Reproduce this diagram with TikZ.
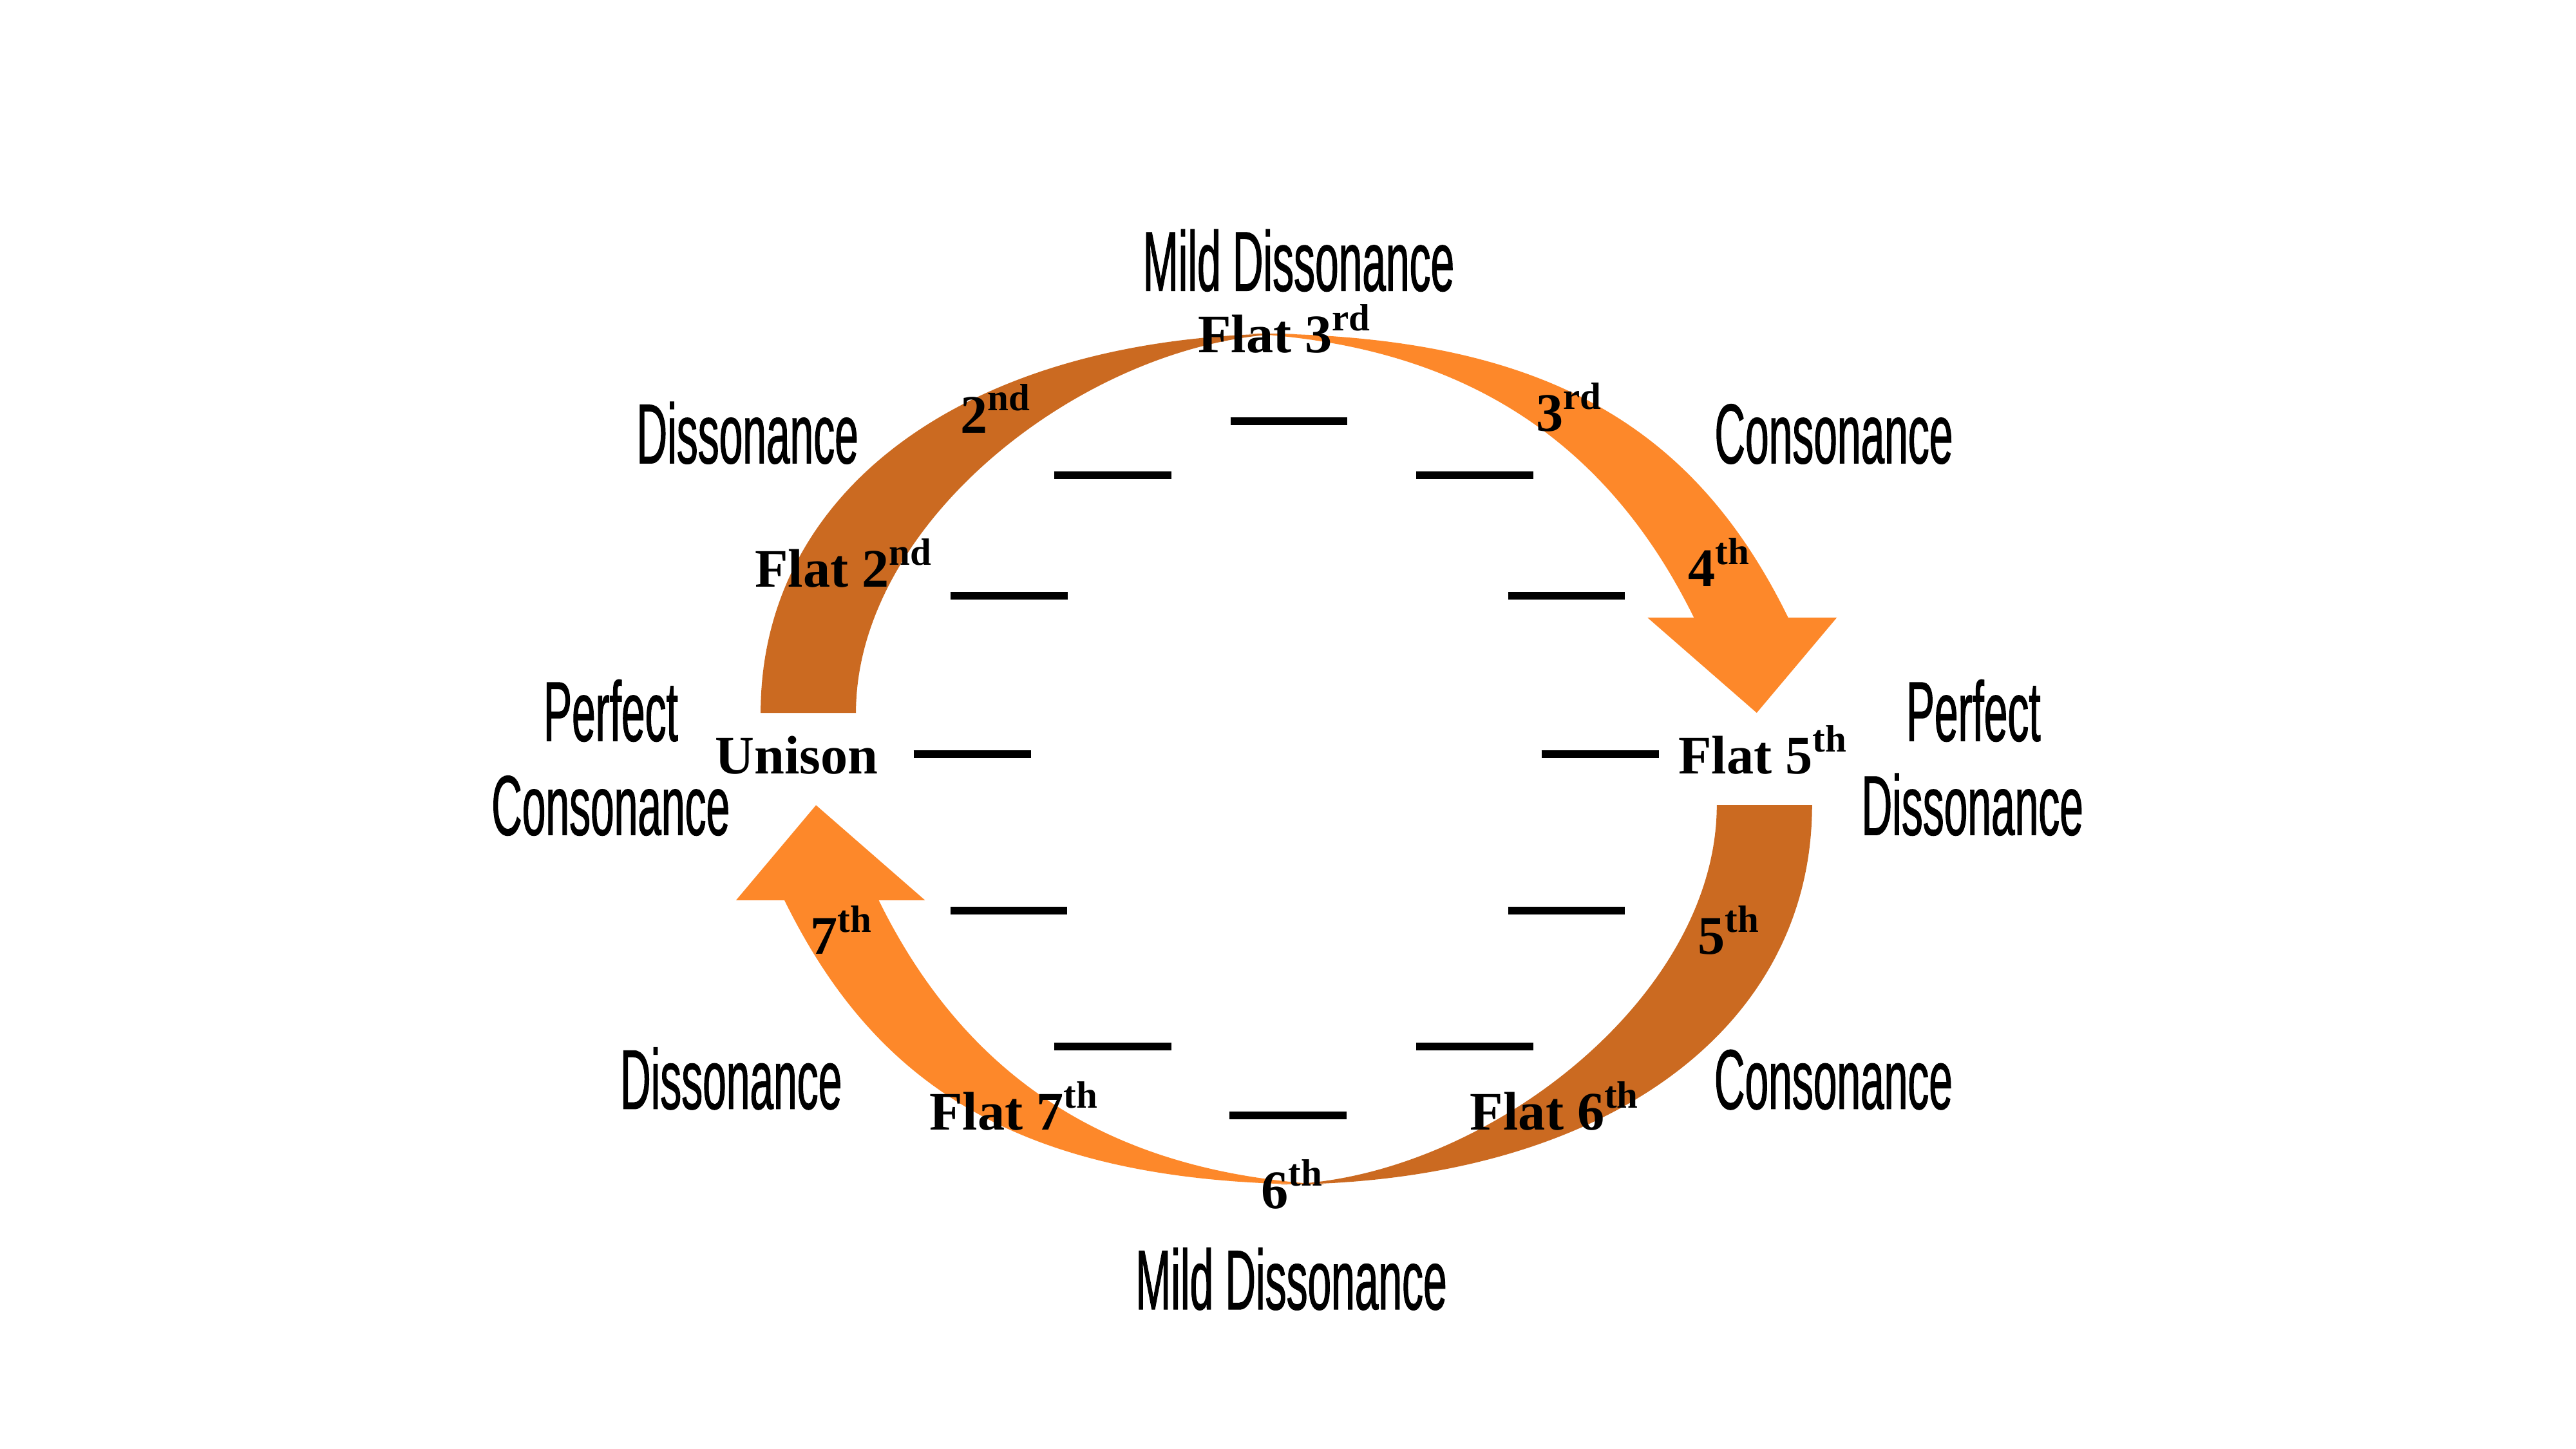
\documentclass[tikz,border=0pt]{standalone}
\usepackage{fontspec}
\setmainfont{Liberation Serif}
\newfontfamily\condfont[FakeStretch=0.5,FakeBold=0.8]{Liberation Sans}
\definecolor{darkor}{HTML}{CB6A21}
\definecolor{lightor}{HTML}{FD882A}
\newcommand\intervalbands{%
  \fill[lightor] (-23,-259) .. controls (157,-259) and (248.3,-202.6) .. (305.5,-86)
     -- (335,-86) -- (286.3,-28.1) -- (219.9,-86) -- (248.1,-86)
     .. controls (190.8,-202.6) and (97,-252) .. (-23,-259) -- cycle;
  \fill[darkor] (-320,-28) .. controls (-320,-166.6) and (-190,-259) .. (5,-259)
     .. controls (-115,-258) and (-262,-148) .. (-262,-28) -- cycle;
}
\begin{document}
\begin{tikzpicture}[x=0.1mm,y=-0.1mm,
  zone/.style={font=\condfont\fontsize{14.7pt}{17pt}\selectfont, anchor=base, inner sep=0pt},
  ivl/.style={font=\bfseries\fontsize{9.4pt}{11pt}\selectfont, anchor=base, inner sep=0pt},
  bar/.style={line width=0.47mm, black}]
\useasboundingbox (0,0) rectangle (1568,882);
\fill[white] (0,0) rectangle (1568,882);

% arrows
\begin{scope}[shift={(783,462)}]
  \intervalbands
\end{scope}
\begin{scope}[shift={(783,462)}, rotate=180]
  \intervalbands
\end{scope}

% bars
\draw[bar] (749,256.5) -- (820,256.5);
\draw[bar] (641.6,289.4) -- (713,289.4);
\draw[bar] (862,289.4) -- (933.2,289.4);
\draw[bar] (578.4,362.6) -- (650,362.6);
\draw[bar] (918,362.6) -- (989.2,362.6);
\draw[bar] (556.1,458.9) -- (627.4,458.9);
\draw[bar] (938.3,459.2) -- (1009.7,459.2);
\draw[bar] (578.6,554.3) -- (649.5,554.3);
\draw[bar] (918,554.3) -- (989.2,554.3);
\draw[bar] (641.6,637.1) -- (713,637.1);
\draw[bar] (862,637.1) -- (933.2,637.1);
\draw[bar] (748.5,678.8) -- (819.8,678.8);

% zone labels
\node[zone] (mdtop) at (790.5,177) {Mild Dissonance};
\node[zone] (disul) at (455,282) {Dissonance};
\node[zone] (conur) at (1116.2,282) {Consonance};
\node[zone] (pcA) at (371.8,451) {Perfect};
\node[zone] (pcB) at (371.7,508.2) {Consonance};
\node[zone] (pdA) at (1201.2,451) {Perfect};
\node[zone] (pdB) at (1200.6,508.2) {Dissonance};
\node[zone] (disll) at (445,675) {Dissonance};
\node[zone] (conlr) at (1116,675) {Consonance};
\node[zone] (mdbot) at (786,797) {Mild Dissonance};

% interval labels
\node[ivl] (f3) at (782.5,214.7) {Flat 3\textsuperscript{rd}};
\node[ivl] (i2) at (606.6,263.5) {2\textsuperscript{nd}};
\node[ivl] (i3) at (955.7,262.4) {3\textsuperscript{rd}};
\node[ivl] (f2) at (514.1,357.4) {Flat 2\textsuperscript{nd}};
\node[ivl] (i4) at (1047.1,356.9) {4\textsuperscript{th}};
\node[ivl] (uni) at (485,471) {Unison};
\node[ivl] (f5) at (1073.7,471) {Flat 5\textsuperscript{th}};
\node[ivl] (i7) at (512.8,580.8) {7\textsuperscript{th}};
\node[ivl] (i5) at (1053,580.8) {5\textsuperscript{th}};
\node[ivl] (f7) at (617.8,687.7) {Flat 7\textsuperscript{th}};
\node[ivl] (f6) at (946.9,687.7) {Flat 6\textsuperscript{th}};
\node[ivl] (i6) at (787.2,735.4) {6\textsuperscript{th}};
\end{tikzpicture}
\end{document}
